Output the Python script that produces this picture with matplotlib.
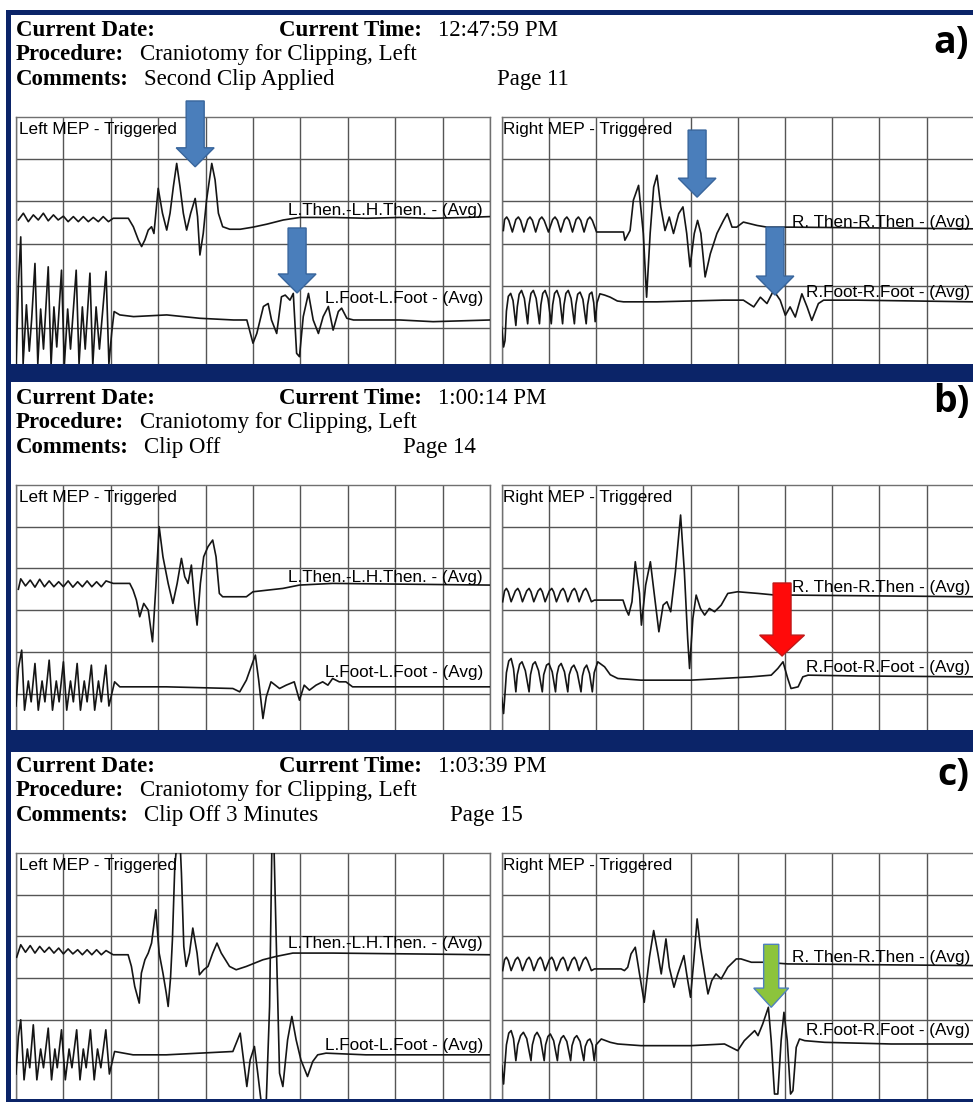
"""
Intraoperative MEP monitoring pages (a: second clip applied, b: clip off,
c: clip off 3 minutes). Traces are read off the printout, in grid divisions.
"""

import matplotlib
matplotlib.use("Agg")
import matplotlib.pyplot as plt
from matplotlib.patches import FancyArrow, Rectangle

# === Canvas ===
W, H = 973, 1102
NAVY = "#0b2468"
GRID = "#555555"
SERIF = "Liberation Serif"
SANS = "Liberation Sans"

# === Header texts ===
TIMES = ["12:47:59 PM", "1:00:14 PM", "1:03:39 PM"]
PROCEDURE = "Craniotomy for Clipping, Left"
COMMENTS = ["Second Clip Applied", "Clip Off", "Clip Off 3 Minutes"]
PAGES = ["Page 11", "Page 14", "Page 15"]
PANEL_LABELS = ["a)", "b)", "c)"]

# === Traces (x: time divisions 0-10, y: grid divisions, top line = 6) ===
A_LEFT_THEN = [(0.05, 3.56), (0.155, 3.72), (0.26, 3.52), (0.366, 3.68), (0.47, 3.56), (0.577, 3.72),
               (0.68, 3.54), (0.79, 3.68), (0.89, 3.56), (1.0, 3.65), (1.10, 3.52), (1.21, 3.64),
               (1.315, 3.52), (1.42, 3.64), (1.526, 3.52), (1.63, 3.62), (1.737, 3.52), (1.84, 3.64),
               (1.95, 3.52), (2.05, 3.60), (2.37, 3.60), (2.475, 3.40), (2.58, 3.09), (2.65, 2.93),
               (2.72, 3.09), (2.79, 3.32), (2.86, 3.40), (2.91, 3.24), (3.0, 4.31), (3.09, 3.72),
               (3.18, 3.32), (3.25, 3.72), (3.32, 4.35), (3.39, 4.90), (3.46, 4.35), (3.53, 3.72),
               (3.60, 3.32), (3.685, 3.72), (3.78, 4.07), (3.83, 3.64), (3.88, 2.73), (3.95, 3.24),
               (4.02, 4.03), (4.13, 4.90), (4.20, 4.51), (4.27, 3.72), (4.36, 3.40), (4.51, 3.34),
               (4.73, 3.34), (5.0, 3.39), (5.29, 3.46), (5.64, 3.56), (5.99, 3.62), (6.69, 3.62),
               (7.40, 3.60), (8.10, 3.62), (8.80, 3.60), (9.51, 3.62), (10.0, 3.64)]
A_LEFT_FOOT = [(0.0, 0.10), (0.05, 2.0), (0.10, 3.16), (0.15, 0.15), (0.22, 1.55), (0.28, 0.45),
               (0.33, 1.2), (0.40, 2.53), (0.46, 0.15), (0.52, 1.45), (0.58, 0.5), (0.68, 2.45),
               (0.74, 0.12), (0.80, 1.5), (0.86, 0.55), (0.96, 2.37), (1.02, 0.12), (1.09, 1.45),
               (1.15, 0.5), (1.27, 2.37), (1.33, 0.15), (1.40, 1.5), (1.46, 0.5), (1.56, 2.30),
               (1.62, 0.12), (1.69, 1.5), (1.76, 0.5), (1.90, 2.34), (1.96, 0.15), (2.02, 0.9),
               (2.07, 1.39), (2.19, 1.31), (2.48, 1.27), (3.18, 1.31), (3.88, 1.23), (4.59, 1.19),
               (4.87, 1.19), (5.0, 0.64), (5.08, 0.87), (5.22, 1.51), (5.32, 1.58), (5.39, 1.19),
               (5.50, 0.87), (5.60, 1.74), (5.68, 1.78), (5.78, 1.66), (5.85, 1.82), (5.92, 0.40),
               (5.98, 0.32), (6.06, 1.27), (6.17, 1.82), (6.27, 1.19), (6.38, 0.87), (6.48, 1.27),
               (6.59, 1.51), (6.69, 0.95), (6.80, 1.39), (6.87, 1.47), (6.98, 1.23), (7.12, 1.19),
               (8.10, 1.19), (8.80, 1.15), (10.0, 1.19)]
A_RIGHT_THEN = [(0.035, 3.31), (0.06, 3.57), (0.106, 3.63), (0.15, 3.55), (0.226, 3.275),
                (0.30, 3.57), (0.353, 3.63), (0.40, 3.55), (0.47, 3.275),
                (0.55, 3.57), (0.60, 3.63), (0.65, 3.55), (0.72, 3.275),
                (0.80, 3.57), (0.85, 3.63), (0.90, 3.55), (0.99, 3.275),
                (1.08, 3.57), (1.13, 3.63), (1.18, 3.55), (1.25, 3.275),
                (1.33, 3.57), (1.38, 3.63), (1.43, 3.55), (1.50, 3.275),
                (1.575, 3.57), (1.625, 3.63), (1.675, 3.55), (1.745, 3.275),
                (1.82, 3.57), (1.87, 3.63), (1.92, 3.55), (2.01, 3.275), (2.58, 3.275),
                (2.61, 3.08), (2.72, 3.31), (2.79, 4.03), (2.90, 4.38), (3.00, 3.24), (3.07, 1.73),
                (3.145, 3.24), (3.22, 4.34), (3.29, 4.62), (3.37, 3.87), (3.46, 3.31), (3.55, 3.63),
                (3.64, 3.24), (3.75, 3.71), (3.84, 3.87), (3.92, 3.24), (3.99, 2.45), (4.08, 3.24),
                (4.15, 3.55), (4.22, 3.24), (4.31, 2.21), (4.42, 2.76), (4.56, 3.24), (4.70, 3.55),
                (4.78, 3.71), (4.88, 3.39), (4.98, 3.39), (5.12, 3.51), (5.41, 3.43), (5.62, 3.39),
                (6.11, 3.39), (10.0, 3.35)]
A_RIGHT_FOOT = [(0.0, 1.02), (0.04, 0.55), (0.07, 0.7), (0.10, 1.4), (0.14, 1.75), (0.19, 1.82),
                (0.24, 1.65), (0.30, 1.06),
                (0.33, 1.5), (0.37, 1.8), (0.42, 1.89), (0.48, 1.7), (0.55, 1.10),
                (0.58, 1.55), (0.62, 1.82), (0.67, 1.89), (0.73, 1.7), (0.80, 1.10),
                (0.83, 1.55), (0.87, 1.82), (0.92, 1.89), (0.98, 1.7), (1.05, 1.10),
                (1.08, 1.55), (1.12, 1.82), (1.17, 1.89), (1.23, 1.7), (1.29, 1.10),
                (1.32, 1.55), (1.36, 1.82), (1.41, 1.89), (1.47, 1.7), (1.54, 1.10),
                (1.57, 1.55), (1.61, 1.80), (1.66, 1.85), (1.72, 1.68), (1.79, 1.10),
                (1.82, 1.55), (1.86, 1.80), (1.91, 1.85), (1.95, 1.6), (1.98, 1.15),
                (2.02, 1.6), (2.08, 1.81), (2.18, 1.78), (2.30, 1.73), (2.45, 1.64), (2.58, 1.62),
                (3.29, 1.62), (4.70, 1.66), (5.12, 1.66), (5.34, 1.50), (5.48, 1.73), (5.62, 1.58),
                (5.76, 1.89), (5.90, 1.66), (6.01, 1.30), (6.11, 1.50), (6.22, 1.26), (6.36, 1.81),
                (6.47, 1.50), (6.57, 1.18), (6.71, 1.58), (6.82, 1.66), (7.53, 1.66), (10.0, 1.62)]

B_LEFT_THEN = [(0.05, 3.5), (0.10, 3.75), (0.20, 3.58), (0.30, 3.72), (0.40, 3.55), (0.50, 3.74),
               (0.60, 3.56), (0.70, 3.70), (0.80, 3.56), (0.90, 3.68), (1.00, 3.56), (1.10, 3.70),
               (1.20, 3.55), (1.30, 3.68), (1.40, 3.56), (1.50, 3.70), (1.60, 3.56), (1.70, 3.68),
               (1.80, 3.56), (1.90, 3.70), (2.05, 3.64), (2.40, 3.64), (2.47, 3.48), (2.54, 3.24),
               (2.61, 2.84), (2.695, 3.16), (2.79, 3.0), (2.88, 2.24), (2.95, 3.56), (3.02, 5.0),
               (3.10, 4.28), (3.21, 3.64), (3.31, 3.16), (3.40, 3.64), (3.49, 4.24), (3.56, 3.80),
               (3.63, 3.64), (3.70, 4.08), (3.77, 3.16), (3.82, 2.64), (3.89, 3.64), (3.96, 4.28),
               (4.05, 4.52), (4.15, 4.68), (4.22, 4.28), (4.29, 3.40), (4.36, 3.32), (4.58, 3.32),
               (4.86, 3.32), (5.0, 3.44), (5.63, 3.52), (5.98, 3.60), (6.68, 3.64), (10.0, 3.60)]
B_LEFT_FOOT = [(0.0, 0.7), (0.05, 1.6), (0.12, 2.04), (0.18, 0.6), (0.26, 1.3), (0.32, 0.8),
               (0.40, 1.72), (0.47, 0.6), (0.55, 1.3), (0.61, 0.8), (0.70, 1.80), (0.77, 0.6),
               (0.85, 1.3), (0.91, 0.8), (1.0, 1.76), (1.07, 0.6), (1.15, 1.3), (1.21, 0.8),
               (1.29, 1.72), (1.36, 0.6), (1.44, 1.3), (1.50, 0.8), (1.59, 1.68), (1.66, 0.6),
               (1.74, 1.3), (1.80, 0.8), (1.895, 1.68), (1.96, 0.7), (2.08, 1.28), (2.19, 1.16),
               (3.17, 1.16), (4.575, 1.12), (4.72, 1.04), (4.86, 1.32), (4.96, 1.64), (5.05, 1.92),
               (5.12, 1.32), (5.21, 0.40), (5.28, 0.92), (5.38, 1.28), (5.56, 1.12), (5.70, 1.20),
               (5.87, 1.28), (5.98, 0.84), (6.08, 1.20), (6.19, 1.08), (6.33, 1.20), (6.47, 1.28),
               (6.58, 1.20), (6.68, 1.36), (6.82, 1.28), (6.96, 1.28), (7.10, 1.16), (10.0, 1.16)]
B_RIGHT_THEN = [(0.02, 3.20), (0.06, 3.46), (0.10, 3.52), (0.14, 3.44), (0.20, 3.20),
                (0.29, 3.46), (0.34, 3.52), (0.38, 3.44), (0.44, 3.20),
                (0.53, 3.46), (0.58, 3.52), (0.62, 3.44), (0.68, 3.20),
                (0.77, 3.46), (0.82, 3.52), (0.86, 3.44), (0.92, 3.20),
                (1.01, 3.46), (1.06, 3.52), (1.10, 3.44), (1.16, 3.20),
                (1.25, 3.46), (1.30, 3.52), (1.34, 3.44), (1.40, 3.20),
                (1.49, 3.46), (1.54, 3.52), (1.58, 3.44), (1.64, 3.20),
                (1.73, 3.46), (1.78, 3.52), (1.82, 3.44), (1.90, 3.20), (1.965, 3.24),
                (2.57, 3.24), (2.64, 3.0), (2.69, 2.88), (2.76, 3.2), (2.83, 4.16), (2.92, 3.4),
                (2.96, 2.64), (3.05, 3.6), (3.15, 4.16), (3.22, 3.5), (3.33, 2.48), (3.42, 3.12),
                (3.50, 3.2), (3.58, 2.96), (3.68, 3.92), (3.79, 5.28), (3.87, 3.92), (3.94, 2.32),
                (3.98, 1.60), (4.05, 2.80), (4.12, 3.36), (4.21, 3.04), (4.30, 2.88), (4.40, 3.04),
                (4.51, 2.96), (4.65, 3.12), (4.79, 3.40), (5.0, 3.44), (5.43, 3.40), (5.80, 3.36),
                (6.13, 3.36), (10.0, 3.32)]
B_RIGHT_FOOT = [(0.0, 0.9), (0.04, 0.52), (0.07, 1.0), (0.10, 1.5), (0.15, 1.78), (0.20, 1.84),
                (0.25, 1.6), (0.30, 1.04),
                (0.33, 1.45), (0.38, 1.7), (0.43, 1.76), (0.50, 1.55), (0.58, 1.04),
                (0.61, 1.45), (0.66, 1.7), (0.71, 1.76), (0.78, 1.55), (0.86, 1.04),
                (0.89, 1.45), (0.95, 1.68), (1.0, 1.72), (1.07, 1.52), (1.14, 1.04),
                (1.17, 1.45), (1.21, 1.65), (1.26, 1.72), (1.33, 1.52), (1.40, 1.04),
                (1.43, 1.45), (1.48, 1.62), (1.53, 1.68), (1.60, 1.5), (1.68, 1.04),
                (1.71, 1.42), (1.75, 1.6), (1.80, 1.68), (1.86, 1.48), (1.92, 1.04),
                (1.96, 1.5), (2.035, 1.76), (2.18, 1.64), (2.30, 1.45), (2.46, 1.36), (2.95, 1.32),
                (4.01, 1.32), (5.29, 1.40), (5.71, 1.44), (5.85, 1.60), (5.96, 1.76), (6.06, 1.36),
                (6.13, 1.12), (6.28, 1.16), (6.38, 1.40), (6.49, 1.44), (7.55, 1.42), (10.0, 1.40)]

C_LEFT_THEN = [(0.014, 3.5), (0.1, 3.8), (0.2, 3.62), (0.3, 3.78), (0.4, 3.6), (0.5, 3.76), (0.6, 3.62),
               (0.7, 3.74), (0.8, 3.6), (0.9, 3.72), (1.0, 3.58), (1.1, 3.7), (1.2, 3.58), (1.3, 3.68),
               (1.4, 3.56), (1.5, 3.68), (1.6, 3.56), (1.7, 3.68), (1.8, 3.56), (1.9, 3.66), (2.05, 3.56),
               (2.365, 3.56), (2.435, 3.28), (2.505, 2.80), (2.60, 2.40), (2.645, 3.12), (2.72, 3.44),
               (2.79, 3.60), (2.86, 3.84), (2.95, 4.64), (3.02, 3.60), (3.10, 3.12), (3.17, 2.64),
               (3.21, 2.32), (3.26, 3.0), (3.30, 3.92), (3.35, 5.68), (3.40, 6.3), (3.46, 6.3),
               (3.49, 5.52), (3.54, 3.76), (3.59, 3.28), (3.66, 3.60), (3.73, 4.20), (3.82, 3.60),
               (3.87, 3.08), (3.96, 3.20), (4.05, 3.28), (4.15, 3.60), (4.24, 3.84), (4.33, 3.60),
               (4.505, 3.28), (4.645, 3.20), (4.86, 3.28), (5.21, 3.44), (5.49, 3.52), (5.84, 3.60),
               (6.68, 3.60), (10.0, 3.56)]
C_LEFT_FOOT = [(0.0, 0.7), (0.05, 1.6), (0.10, 2.0), (0.17, 0.56), (0.24, 1.3), (0.29, 0.85),
               (0.365, 1.88), (0.44, 0.56), (0.52, 1.3), (0.58, 0.85), (0.68, 1.80), (0.75, 0.56),
               (0.82, 1.3), (0.87, 0.85), (0.96, 1.76), (1.04, 0.56), (1.12, 1.3), (1.18, 0.85),
               (1.28, 1.76), (1.35, 0.56), (1.42, 1.3), (1.48, 0.85), (1.57, 1.76), (1.65, 0.56),
               (1.72, 1.3), (1.79, 0.85), (1.895, 1.76), (1.97, 0.7), (2.08, 1.24), (2.47, 1.16),
               (3.17, 1.16), (3.87, 1.20), (4.575, 1.24), (4.66, 1.48), (4.73, 1.68), (4.80, 1.04),
               (4.87, 0.40), (4.94, 1.04), (5.03, 1.36), (5.10, 0.72), (5.17, 0.05), (5.28, 0.05),
               (5.35, 2.32), (5.40, 6.3), (5.44, 6.3), (5.49, 3.92), (5.56, 0.72), (5.63, 0.40),
               (5.73, 1.52), (5.82, 2.08), (5.91, 1.52), (6.01, 1.04), (6.15, 0.64), (6.26, 1.0),
               (6.365, 1.16), (6.54, 1.20), (7.38, 1.16), (10.0, 1.16)]
C_RIGHT_THEN = [(0.02, 3.18), (0.06, 3.44), (0.10, 3.50), (0.14, 3.42), (0.20, 3.18),
                (0.29, 3.44), (0.34, 3.50), (0.38, 3.42), (0.44, 3.18),
                (0.53, 3.44), (0.58, 3.50), (0.62, 3.42), (0.68, 3.18),
                (0.77, 3.44), (0.82, 3.50), (0.86, 3.42), (0.92, 3.18),
                (1.01, 3.44), (1.06, 3.50), (1.10, 3.42), (1.16, 3.18),
                (1.25, 3.44), (1.30, 3.50), (1.34, 3.42), (1.40, 3.18),
                (1.49, 3.44), (1.54, 3.50), (1.58, 3.42), (1.64, 3.18),
                (1.73, 3.44), (1.78, 3.50), (1.82, 3.42), (1.90, 3.18), (1.965, 3.22),
                (2.53, 3.22), (2.60, 3.18), (2.67, 3.26), (2.74, 3.58), (2.83, 3.74), (2.92, 3.10),
                (3.02, 2.42), (3.13, 3.50), (3.22, 4.14), (3.31, 3.58), (3.38, 3.10), (3.48, 3.94),
                (3.55, 3.26), (3.65, 2.78), (3.73, 3.10), (3.86, 3.54), (3.93, 3.02), (4.0, 2.54),
                (4.07, 3.42), (4.14, 4.42), (4.21, 3.74), (4.30, 3.10), (4.37, 2.62), (4.45, 2.94),
                (4.54, 3.10), (4.65, 2.98), (4.79, 3.26), (4.97, 3.46), (5.07, 3.46), (5.29, 3.38),
                (5.57, 3.38), (6.06, 3.34), (10.0, 3.30)]
C_RIGHT_FOOT = [(0.0, 0.9), (0.04, 0.46), (0.07, 0.95), (0.10, 1.4), (0.15, 1.68), (0.20, 1.74),
                (0.25, 1.55), (0.30, 1.02),
                (0.34, 1.4), (0.40, 1.62), (0.46, 1.70), (0.53, 1.55), (0.62, 1.02),
                (0.65, 1.4), (0.70, 1.62), (0.75, 1.70), (0.82, 1.55), (0.90, 1.02),
                (0.93, 1.4), (0.98, 1.6), (1.03, 1.66), (1.10, 1.5), (1.18, 1.02),
                (1.21, 1.38), (1.26, 1.56), (1.31, 1.62), (1.38, 1.48), (1.46, 1.02),
                (1.49, 1.38), (1.54, 1.56), (1.59, 1.62), (1.66, 1.48), (1.74, 1.02),
                (1.77, 1.36), (1.82, 1.5), (1.87, 1.54), (1.92, 1.4), (1.96, 1.02),
                (2.0, 1.4), (2.11, 1.54), (2.30, 1.46), (2.46, 1.42), (2.95, 1.38), (4.01, 1.38),
                (4.72, 1.42), (5.0, 1.26), (5.14, 1.50), (5.36, 1.74), (5.43, 1.62), (5.53, 1.90),
                (5.65, 2.30), (5.71, 1.50), (5.78, 0.22), (5.85, 0.22), (5.92, 1.50), (5.98, 2.18),
                (6.05, 1.50), (6.12, 0.22), (6.17, 0.30), (6.24, 1.34), (6.31, 1.54), (6.42, 1.50),
                (6.84, 1.46), (8.25, 1.42), (10.0, 1.42)]

# Channel labels and their baseline (grid divisions) per panel: Then, Foot
LEFT_LABELS = ["L.Then.-L.H.Then. - (Avg)", "L.Foot-L.Foot - (Avg)"]
RIGHT_LABELS = ["R. Then-R.Then - (Avg)", "R.Foot-R.Foot - (Avg)"]
LEFT_LABEL_Y = [(3.68, 1.59), (3.67, 1.40), (3.72, 1.28)]
RIGHT_LABEL_Y = [(3.39, 1.73), (3.43, 1.52), (3.39, 1.64)]

# Marker arrows: (panel, side, x, y_top, y_tip, colour)
ARROWS = [
    (0, "L", 3.78, 6.38, 4.82, "blue"),
    (0, "L", 5.93, 3.37, 1.83, "blue"),
    (0, "R", 4.14, 5.69, 4.10, "blue"),
    (0, "R", 5.79, 3.39, 1.78, "blue"),
    (1, "R", 5.94, 3.65, 1.90, "red"),
    (2, "R", 5.71, 3.81, 2.30, "green"),
]
ARROW_STYLE = {
    "blue": dict(fc="#4a7ebb", ec="#38659c", w=0.38, hw=0.80, hl=0.45),
    "red": dict(fc="#ff0a0a", ec="#c01818", w=0.38, hw=0.95, hl=0.50),
    "green": dict(fc="#8cc43c", ec="#4f81bd", w=0.32, hw=0.74, hl=0.46),
}

# === Page layout in pixels ===
PANEL_TOP = [117, 485, 853]
PANEL_BOTTOM = [364, 730, 1099]
CELL_H = [42.2, 41.7, 41.7]
LEFT_BOX = (16, 474)
RIGHT_BOX = (501.7, 472)
PAGE_X = [497, 403, 450]
LABEL_BASE = [53, 412, 785]


def fx(x):
    return x / W


def fy(y):
    return 1 - y / H


def add_box(fig, panel, box):
    left, width = box
    top, bottom = PANEL_TOP[panel], PANEL_BOTTOM[panel]
    ax = fig.add_axes([fx(left), fy(bottom), width / W, (bottom - top) / H])
    ax.set_xlim(0, 10)
    ax.set_ylim(6 - (bottom - top) / CELL_H[panel], 6)
    ax.set_xticks(range(0, 11))
    ax.set_yticks(range(1, 6))
    ax.grid(True, color=GRID, lw=1.0)
    ax.tick_params(length=0, labelbottom=False, labelleft=False)
    ax.spines["bottom"].set_visible(False)
    for s in ["top", "left", "right"]:
        ax.spines[s].set_color("#707070")
        ax.spines[s].set_linewidth(1.0)
    return ax


def draw_trace(ax, pts):
    xs, ys = zip(*pts)
    ax.plot(xs, ys, color="#151515", lw=1.2, zorder=3, solid_joinstyle="round")


def main():
    fig = plt.figure(figsize=(W / 100, H / 100), dpi=100)
    fig.patch.set_facecolor("white")

    traces = [
        (A_LEFT_THEN, A_LEFT_FOOT, A_RIGHT_THEN, A_RIGHT_FOOT),
        (B_LEFT_THEN, B_LEFT_FOOT, B_RIGHT_THEN, B_RIGHT_FOOT),
        (C_LEFT_THEN, C_LEFT_FOOT, C_RIGHT_THEN, C_RIGHT_FOOT),
    ]

    for p in range(3):
        top = PANEL_TOP[p]
        # header block
        rows = [top - 81, top - 57, top - 32]
        hdr = dict(family=SERIF, fontsize=16.5, va="baseline")
        fig.text(fx(16), fy(rows[0]), "Current Date:", weight="bold", **hdr)
        fig.text(fx(279), fy(rows[0]), "Current Time:", weight="bold", **hdr)
        fig.text(fx(438), fy(rows[0]), TIMES[p], **hdr)
        fig.text(fx(16), fy(rows[1]), "Procedure:", weight="bold", **hdr)
        fig.text(fx(140), fy(rows[1]), PROCEDURE, **hdr)
        fig.text(fx(16), fy(rows[2]), "Comments:", weight="bold", **hdr)
        fig.text(fx(144), fy(rows[2]), COMMENTS[p], **hdr)
        fig.text(fx(PAGE_X[p]), fy(rows[2]), PAGES[p], **hdr)
        fig.text(fx(969), fy(LABEL_BASE[p]), PANEL_LABELS[p], family="Open Sans",
                 weight="bold", fontsize=27, ha="right", va="baseline")

        axl = add_box(fig, p, LEFT_BOX)
        axr = add_box(fig, p, RIGHT_BOX)
        lab = dict(family=SANS, fontsize=12.3, va="baseline", zorder=4)
        axl.text(0.06, 5.6, "Left MEP - Triggered", ha="left", **lab)
        axr.text(0.03, 5.6, "Right MEP - Triggered", ha="left", **lab)

        l_then, l_foot, r_then, r_foot = traces[p]
        for pts in (l_then, l_foot):
            draw_trace(axl, pts)
        for pts in (r_then, r_foot):
            draw_trace(axr, pts)

        for name, yb in zip(LEFT_LABELS, LEFT_LABEL_Y[p]):
            axl.text(9.85, yb, name, ha="right", **lab)
        for name, yb in zip(RIGHT_LABELS, RIGHT_LABEL_Y[p]):
            axr.text(9.92, yb, name, ha="right", **lab)

        for panel, side, x, y0, y1, col in ARROWS:
            if panel != p:
                continue
            st = ARROW_STYLE[col]
            ax = axl if side == "L" else axr
            ax.add_patch(FancyArrow(x, y0, 0, y1 - y0, width=st["w"], head_width=st["hw"],
                                    head_length=st["hl"], length_includes_head=True,
                                    fc=st["fc"], ec=st["ec"], lw=1.0, clip_on=False, zorder=6))

    # navy frame and separators
    bands = [(6, 10, W - 6, 4.5), (6, 10, 5, H - 10), (6, 364, W - 6, 18),
             (6, 730, W - 6, 22), (6, 1099, W - 6, 3)]
    for x, y, w, h in bands:
        fig.patches.append(Rectangle((fx(x), fy(y + h)), w / W, h / H, transform=fig.transFigure,
                                     facecolor=NAVY, edgecolor="none", zorder=10))

    fig.savefig("out.png", dpi=100)


if __name__ == "__main__":
    main()
